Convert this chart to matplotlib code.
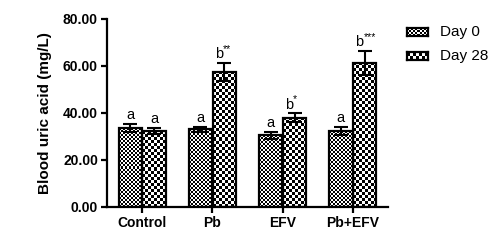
import numpy as np
import matplotlib
matplotlib.use("Agg")
import matplotlib.pyplot as plt

plt.rcParams['font.family'] = ['Liberation Sans', 'DejaVu Sans']

groups = ['Control', 'Pb', 'EFV', 'Pb+EFV']
series = ['Day 0', 'Day 28']
day0 = [33.5, 33.0, 30.5, 32.3]
day0_err = [1.8, 1.2, 1.5, 1.7]
day28 = [32.3, 57.5, 38.0, 61.3]
day28_err = [1.2, 3.8, 1.8, 5.0]
letters0 = ['a', 'a', 'a', 'a']
letters28 = ['a', 'b', 'b', 'b']
stars28 = ['', '**', '*', '***']

DPI = 100
fig = plt.figure(figsize=(5.0, 2.49), dpi=DPI)
ax = fig.add_axes([0.214, 0.169, 0.562, 0.755])

x = np.arange(len(groups))
w = 0.33
off = 0.17


def checker(n_x, n_y):
    return (np.add.outer(np.arange(n_y), np.arange(n_x)) % 2).astype(float)


def fill_checker(axis, bars, cell_px):
    fig.canvas.draw()
    for b in bars:
        bb = b.get_window_extent()
        nx = max(1, int(round(bb.width / cell_px)))
        ny = max(1, int(round(bb.height / cell_px)))
        im = axis.imshow(checker(nx, ny), cmap='gray', vmin=0, vmax=1,
                         interpolation='nearest', aspect='auto',
                         extent=[b.get_x(), b.get_x() + b.get_width(),
                                 b.get_y(), b.get_y() + b.get_height()],
                         zorder=2)
        im.set_clip_path(b)


ax.set_xlim(-0.5, 3.5)
ax.set_ylim(0, 80)

bars0 = ax.bar(x - off, day0, w, facecolor='none', edgecolor='black',
               linewidth=1.6, zorder=3)
bars28 = ax.bar(x + off, day28, w, facecolor='none', edgecolor='black',
                linewidth=1.6, zorder=3)

# image fills clipped to the bars
clip0 = ax.bar(x - off, day0, w, facecolor='white', edgecolor='none', zorder=1)
clip28 = ax.bar(x + off, day28, w, facecolor='white', edgecolor='none', zorder=1)
fill_checker(ax, clip0, 2.0)
fill_checker(ax, clip28, 3.0)

ax.errorbar(x - off, day0, yerr=day0_err, fmt='none', ecolor='black',
            elinewidth=1.5, capsize=5, capthick=1.5, zorder=4)
ax.errorbar(x + off, day28, yerr=day28_err, fmt='none', ecolor='black',
            elinewidth=1.5, capsize=5, capthick=1.5, zorder=4)

for i in range(len(groups)):
    ax.text(x[i] - off, day0[i] + day0_err[i] + 0.8, letters0[i],
            ha='center', va='bottom', fontsize=10.5)
    if stars28[i]:
        ax.annotate(letters28[i], (x[i] + off, day28[i] + day28_err[i] + 0.8),
                    xytext=(-4, 0), textcoords='offset points',
                    ha='center', va='bottom', fontsize=10.5)
        ax.annotate(stars28[i], (x[i] + off, day28[i] + day28_err[i] + 0.8),
                    xytext=(-1, 5), textcoords='offset points',
                    ha='left', va='bottom', fontsize=7.5)
    else:
        ax.text(x[i] + off, day28[i] + day28_err[i] + 0.8, letters28[i],
                ha='center', va='bottom', fontsize=10.5)

ax.set_xlim(-0.5, 3.5)
ax.set_ylim(0, 80)
ax.set_yticks([0, 20, 40, 60, 80])
ax.set_yticklabels(['%.2f' % v for v in [0, 20, 40, 60, 80]],
                   fontsize=10, fontweight='bold')
ax.set_xticks(x)
ax.set_xticklabels(groups, fontsize=10, fontweight='bold')
ax.set_ylabel('Blood uric acid (mg/L)', fontsize=11, fontweight='bold',
              labelpad=8)
for s in ['top', 'right']:
    ax.spines[s].set_visible(False)
for s in ['left', 'bottom']:
    ax.spines[s].set_linewidth(1.6)
ax.tick_params(width=1.6, length=4.5, pad=2)

# legend swatches
for i, (name, cell) in enumerate(zip(series, [2.0, 3.0])):
    top = 28 + i * 24
    sw = fig.add_axes([407 / 500, 1 - (top + 8) / 249, 21 / 500, 8 / 249])
    sw.imshow(checker(int(21 / cell), int(8 / cell)), cmap='gray', vmin=0,
              vmax=1, interpolation='nearest', aspect='auto')
    sw.set_xticks([])
    sw.set_yticks([])
    for sp in sw.spines.values():
        sp.set_linewidth(1.6)
    fig.text(440 / 500, 1 - (top + 4) / 249, name, fontsize=11, va='center')

fig.savefig('out.png', dpi=DPI)
